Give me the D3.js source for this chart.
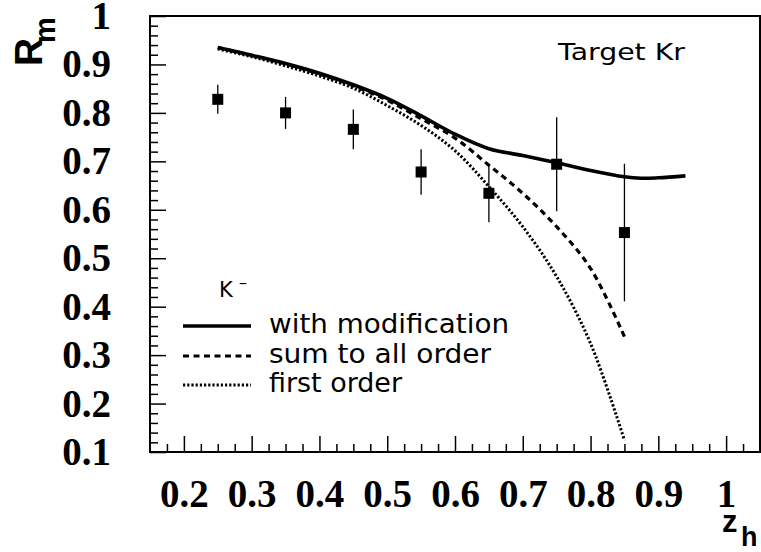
<!DOCTYPE html>
<html>
<head>
<meta charset="utf-8">
<script src="https://cdn.jsdelivr.net/npm/d3@7"></script>
<style>
  body { margin: 0; background: #fff; }
  svg { display: block; }
</style>
</head>
<body>
<div id="chart"></div>
<script>
// data points (Kr target, K-)
const zData = [0.25, 0.35, 0.45, 0.55, 0.65, 0.75, 0.85];
const rData = [0.828, 0.800, 0.766, 0.678, 0.634, 0.694, 0.553];
const rErr  = [0.030, 0.033, 0.041, 0.047, 0.060, 0.097, 0.142];

// theory curves
const zModif = [0.25, 0.30, 0.35, 0.40, 0.45, 0.50, 0.55, 0.60, 0.65, 0.70, 0.75, 0.80, 0.85, 0.875, 0.90, 0.94];
const rModif = [0.935, 0.919, 0.902, 0.882, 0.858, 0.830, 0.794, 0.756, 0.726, 0.712, 0.697, 0.681, 0.668, 0.665, 0.666, 0.670];

const zAll = [0.25, 0.30, 0.35, 0.40, 0.45, 0.50, 0.55, 0.60, 0.65, 0.70, 0.75, 0.80, 0.85];
const rAll = [0.935, 0.919, 0.901, 0.880, 0.856, 0.826, 0.788, 0.748, 0.692, 0.634, 0.565, 0.479, 0.338];

const zFirst = [0.25, 0.30, 0.35, 0.40, 0.45, 0.50, 0.55, 0.60, 0.65, 0.70, 0.75, 0.80, 0.85];
const rFirst = [0.932, 0.916, 0.897, 0.876, 0.851, 0.815, 0.774, 0.722, 0.648, 0.565, 0.462, 0.324, 0.124];

// axis labels
const xTickLabels = [0.2, 0.3, 0.4, 0.5, 0.6, 0.7, 0.8, 0.9, 1];
const yTickLabels = [0.1, 0.2, 0.3, 0.4, 0.5, 0.6, 0.7, 0.8, 0.9, 1];

const legendLabels = ["with modification", "sum to all order", "first order"];

const W = 761, H = 552;
const margin = { top: 16, right: 1, bottom: 100, left: 150 };
const width = W - margin.left - margin.right;
const height = H - margin.top - margin.bottom;

const svg = d3.select("#chart").append("svg")
    .attr("width", W)
    .attr("height", H);

const g = svg.append("g")
    .attr("transform", `translate(${margin.left},${margin.top})`);

const x = d3.scaleLinear().domain([0.15, 1.05]).range([0, width]);
const y = d3.scaleLinear().domain([0.1, 1]).range([height, 0]);

const labelFont = "'Liberation Serif', 'Times New Roman', serif";
const sansFont = "'DejaVu Sans', sans-serif";
const titleFont = "'Liberation Sans', Arial, sans-serif";

// minor ticks
const xMinor = d3.range(7, 42).map(i => i * 0.025).filter((d, i) => (i + 7) % 4 !== 0);
const yMinor = d3.range(1, 45).map(i => 0.1 + i * 0.02).filter((d, i) => (i + 1) % 5 !== 0);

g.append("g")
    .attr("transform", `translate(0,${height})`)
    .call(d3.axisBottom(x).tickValues(xMinor).tickSize(-8).tickFormat(""))
    .call(a => a.select(".domain").remove())
    .selectAll("line").attr("stroke-width", 1.5);

g.append("g")
    .call(d3.axisLeft(y).tickValues(yMinor).tickSize(-8).tickFormat(""))
    .call(a => a.select(".domain").remove())
    .selectAll("line").attr("stroke-width", 1.5);

// major ticks + labels
const xAxis = g.append("g")
    .attr("transform", `translate(0,${height})`)
    .call(d3.axisBottom(x).tickValues(xTickLabels).tickSize(-16).tickPadding(27).tickFormat(d => String(d)))
    .call(a => a.select(".domain").remove());
xAxis.selectAll("line").attr("stroke-width", 1.5);
xAxis.selectAll("text")
    .attr("font-family", labelFont)
    .attr("font-weight", "bold")
    .attr("font-size", 39)
    .attr("fill", "#000");

const yAxis = g.append("g")
    .call(d3.axisLeft(y).tickValues(yTickLabels).tickSize(-16).tickPadding(39).tickFormat(d => String(d)))
    .call(a => a.select(".domain").remove());
yAxis.selectAll("line").attr("stroke-width", 1.5);
yAxis.selectAll("text")
    .attr("font-family", labelFont)
    .attr("font-weight", "bold")
    .attr("font-size", 39)
    .attr("fill", "#000");

// frame
g.append("rect")
    .attr("x", 0).attr("y", 0)
    .attr("width", x(1.05) - x(0.15)).attr("height", y(0.1) - y(1))
    .attr("fill", "none")
    .attr("stroke", "#000")
    .attr("stroke-width", 2);

// curves
const line = d3.line()
    .x(d => x(d[0]))
    .y(d => y(d[1]))
    .curve(d3.curveCatmullRom.alpha(0.5));

const curves = [
    { z: zFirst, r: rFirst, width: 3, dash: "2.2,2" },
    { z: zAll, r: rAll, width: 3.2, dash: "6,4.5" },
    { z: zModif, r: rModif, width: 3.6, dash: null }
];

curves.forEach(c => {
    g.append("path")
        .datum(c.z.map((z, i) => [z, c.r[i]]))
        .attr("fill", "none")
        .attr("stroke", "#000")
        .attr("stroke-width", c.width)
        .attr("stroke-dasharray", c.dash)
        .attr("d", line);
});

// data with error bars
const pts = zData.map((z, i) => ({ z: z, r: rData[i], e: rErr[i] }));

g.selectAll(".err").data(pts).enter().append("line")
    .attr("class", "err")
    .attr("x1", d => x(d.z)).attr("x2", d => x(d.z))
    .attr("y1", d => y(d.r - d.e)).attr("y2", d => y(d.r + d.e))
    .attr("stroke", "#000")
    .attr("stroke-width", 1.3);

const ms = 11;
g.selectAll(".pt").data(pts).enter().append("rect")
    .attr("class", "pt")
    .attr("x", d => x(d.z) - ms / 2)
    .attr("y", d => y(d.r) - ms / 2)
    .attr("width", ms).attr("height", ms)
    .attr("fill", "#000");

// legend
svg.append("text")
    .attr("x", 219).attr("y", 297)
    .attr("font-family", sansFont)
    .attr("font-size", 21)
    .text("K");
svg.append("text")
    .attr("x", 239).attr("y", 288)
    .attr("font-family", sansFont)
    .attr("font-size", 16)
    .text("\u2013");

const legendRows = [
    { y: 326, text: legendLabels[0], len: 240, width: 3.6, dash: null },
    { y: 356, text: legendLabels[1], len: 222, width: 3.2, dash: "6,4.5" },
    { y: 385, text: legendLabels[2], len: 133, width: 3, dash: "2.2,2" }
];

legendRows.forEach(row => {
    svg.append("line")
        .attr("x1", 183).attr("x2", 251)
        .attr("y1", row.y).attr("y2", row.y)
        .attr("stroke", "#000")
        .attr("stroke-width", row.width)
        .attr("stroke-dasharray", row.dash);
    svg.append("text")
        .attr("x", 269).attr("y", row.y + 7)
        .attr("font-family", sansFont)
        .attr("font-size", 26)
        .attr("textLength", row.len)
        .attr("lengthAdjust", "spacingAndGlyphs")
        .text(row.text);
});

svg.append("text")
    .attr("x", 558).attr("y", 60)
    .attr("font-family", sansFont)
    .attr("font-size", 23)
    .attr("textLength", 127)
    .attr("lengthAdjust", "spacingAndGlyphs")
    .text("Target Kr");

// axis titles
svg.append("text")
    .attr("transform", "translate(42,66) rotate(-90)")
    .attr("font-family", titleFont)
    .attr("font-weight", "bold")
    .attr("font-size", 39)
    .text("R");
svg.append("text")
    .attr("transform", "translate(55,43) rotate(-90)")
    .attr("font-family", titleFont)
    .attr("font-weight", "bold")
    .attr("font-size", 29)
    .text("m");

svg.append("text")
    .attr("x", 722).attr("y", 532)
    .attr("font-family", titleFont)
    .attr("font-weight", "bold")
    .attr("font-size", 31)
    .text("z");
svg.append("text")
    .attr("x", 741).attr("y", 546)
    .attr("font-family", titleFont)
    .attr("font-weight", "bold")
    .attr("font-size", 27)
    .text("h");
</script>
</body>
</html>
